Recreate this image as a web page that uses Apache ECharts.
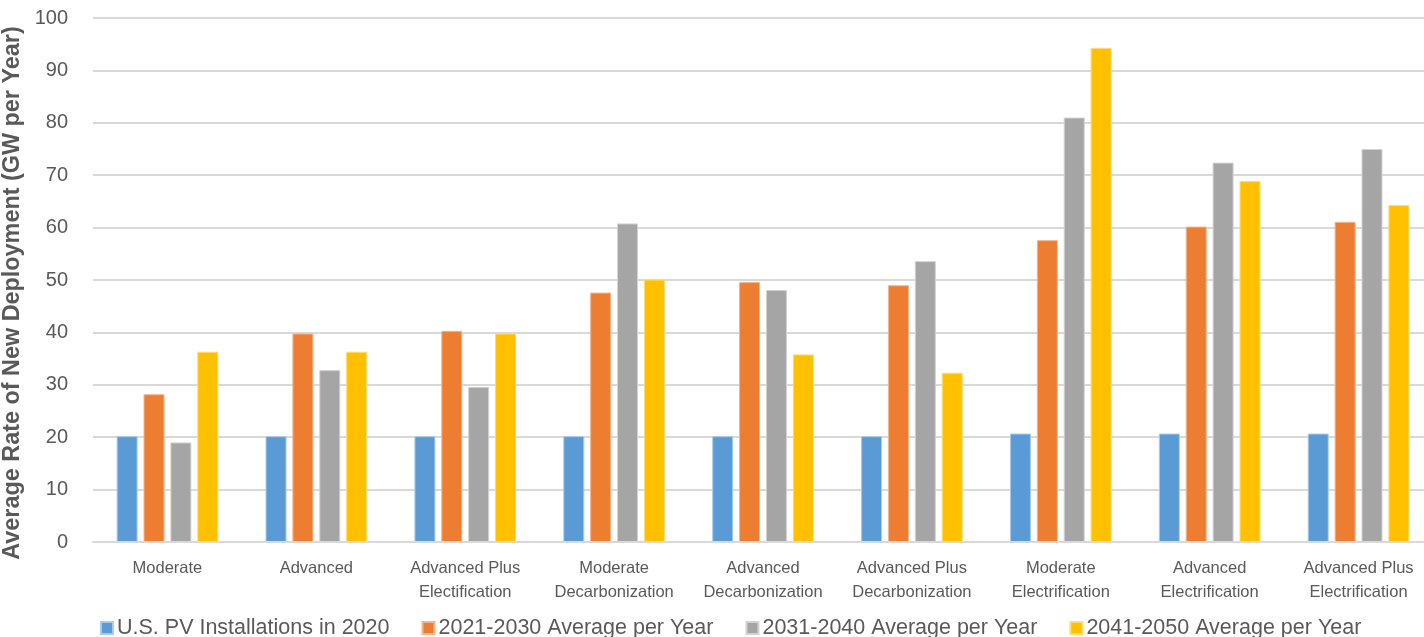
<!DOCTYPE html>
<html>
<head>
<meta charset="utf-8">
<script src="https://cdn.jsdelivr.net/npm/echarts@6/dist/echarts.min.js"></script>
<style>
  html, body { margin: 0; padding: 0; background: #ffffff; }
  #chart { width: 1424px; height: 637px; }
</style>
</head>
<body>
<div id="chart"></div>
<script>
// Scenario names (two-line labels under each group)
const categories = [
  'Moderate',
  'Advanced',
  'Advanced Plus\nElectification',
  'Moderate\nDecarbonization',
  'Advanced\nDecarbonization',
  'Advanced Plus\nDecarbonization',
  'Moderate\nElectrification',
  'Advanced\nElectrification',
  'Advanced Plus\nElectrification'
];

const seriesNames = [
  'U.S. PV Installations in 2020',
  '2021-2030 Average per Year',
  '2031-2040 Average per Year',
  '2041-2050 Average per Year'
];

// GW per year
const installs2020 = [20.2, 20.2, 20.2, 20.2, 20.2, 20.2, 20.7, 20.7, 20.7];
const avg2021to2030 = [28.2, 39.8, 40.3, 47.6, 49.6, 49.0, 57.6, 60.2, 61.1];
const avg2031to2040 = [19.0, 32.8, 29.6, 60.8, 48.1, 53.6, 81.0, 72.4, 75.0];
const avg2041to2050 = [36.3, 36.3, 39.8, 50.1, 35.8, 32.3, 94.3, 68.9, 64.3];

const yTicks = { min: 0, max: 100, interval: 10 };

const colors = ['#5b9bd5', '#ed7d31', '#a5a5a5', '#ffc000'];
const borders = ['#a9cbeb', '#f6b48c', '#d2d2d2', '#ffdc73'];
const textColor = '#595959';
const fontFamily = '"Liberation Sans", "DejaVu Sans", sans-serif';

const values = [installs2020, avg2021to2030, avg2031to2040, avg2041to2050];

const chart = echarts.init(document.getElementById('chart'), null, { renderer: 'canvas' });

chart.setOption({
  animation: false,
  color: colors,
  textStyle: { fontFamily: fontFamily },
  grid: { left: 93, right: -9, top: 18, bottom: 95, containLabel: false, outerBoundsMode: 'none' },
  legend: {
    left: 100,
    top: 617,
    padding: 0,
    itemWidth: 12,
    itemHeight: 12,
    itemGap: 32,
    icon: 'rect',
    textStyle: { color: textColor, fontSize: 21.5, fontFamily: fontFamily, padding: [0, 0, 0, -1] },
    data: seriesNames
  },
  xAxis: {
    type: 'category',
    data: categories,
    axisLine: { show: true, lineStyle: { color: '#d9d9d9', width: 2 } },
    axisTick: { show: false },
    axisLabel: {
      color: textColor,
      fontSize: 16.5,
      lineHeight: 24,
      margin: 14,
      interval: 0,
      fontFamily: fontFamily
    },
    z: 10
  },
  yAxis: {
    type: 'value',
    min: yTicks.min,
    max: yTicks.max,
    interval: yTicks.interval,
    name: 'Average Rate of New Deployment (GW per Year)',
    nameLocation: 'middle',
    nameGap: 48,
    nameRotate: 90,
    nameTextStyle: {
      color: textColor,
      fontSize: 23.4,
      fontWeight: 'bold',
      fontFamily: fontFamily,
      padding: [0, 26, 0, 0]
    },
    axisLine: { show: false },
    axisTick: { show: false },
    axisLabel: { color: textColor, fontSize: 20, margin: 25, fontFamily: fontFamily },
    splitLine: { lineStyle: { color: '#d9d9d9', width: 2 } }
  },
  series: seriesNames.map((name, i) => ({
    name: name,
    type: 'bar',
    data: values[i],
    barWidth: 21,
    barGap: '28%',
    itemStyle: { color: colors[i], borderColor: borders[i], borderWidth: 1 }
  }))
});
</script>
</body>
</html>
